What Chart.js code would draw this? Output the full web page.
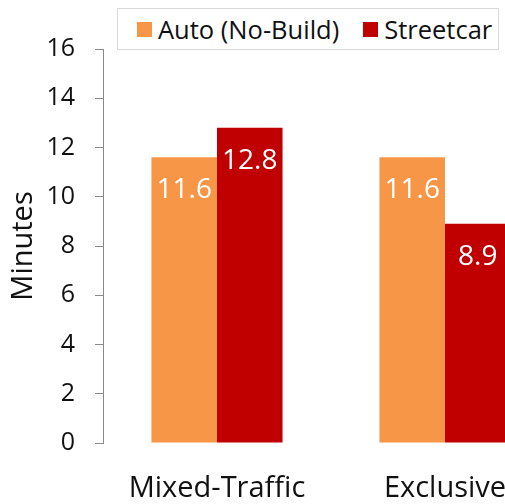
<!DOCTYPE html>
<html>
<head>
<meta charset="utf-8">
<script src="https://cdn.jsdelivr.net/npm/chart.js@4"></script>
<style>
  html, body { margin: 0; padding: 0; background: #fff; overflow: hidden; }
  #wrap { position: relative; width: 580px; height: 504px; }
  #c { display: block; width: 580px; height: 504px; }
  #legend {
    position: absolute; left: 117px; top: 8px; width: 382px; height: 42px;
    border: 1px solid #d9d9d9; box-sizing: border-box; background: #fff;
    display: flex; align-items: center; padding-left: 19px;
    font-family: "Open Sans", sans-serif; font-size: 25.5px; color: #111; white-space: nowrap;
  }
  #legend .item { display: flex; align-items: center; margin-right: 24px; }
  #legend .sw { width: 15px; height: 15px; margin-right: 6px; display: inline-block; }
</style>
</head>
<body>
<div id="wrap">
  <canvas id="c" width="580" height="504"></canvas>
  <div id="legend"></div>
</div>
<script>
const categories = ["Mixed-Traffic", "Exclusive"];
const seriesNames = ["Auto (No-Build)", "Streetcar"];
const autoValues = [11.6, 11.6];
const streetcarValues = [12.8, 8.9];
const seriesColors = ["#F79646", "#C00000"];
const yTicks = [0, 2, 4, 6, 8, 10, 12, 14, 16];

const FONT = "'Open Sans', sans-serif";

const valueLabels = {
  id: "valueLabels",
  afterDatasetsDraw(chart) {
    const ctx = chart.ctx;
    ctx.save();
    ctx.font = "28px " + FONT;
    ctx.fillStyle = "#ffffff";
    ctx.textAlign = "center";
    ctx.textBaseline = "middle";
    chart.data.datasets.forEach((ds, i) => {
      const meta = chart.getDatasetMeta(i);
      meta.data.forEach((bar, j) => {
        ctx.fillText(ds.data[j].toFixed(1), bar.x, bar.y + 33);
      });
    });
    ctx.restore();
  }
};

const htmlLegend = {
  id: "htmlLegend",
  afterUpdate(chart) {
    const box = document.getElementById("legend");
    box.innerHTML = "";
    chart.data.datasets.forEach(ds => {
      const item = document.createElement("span");
      item.className = "item";
      const sw = document.createElement("span");
      sw.className = "sw";
      sw.style.background = ds.backgroundColor;
      const tx = document.createElement("span");
      tx.textContent = ds.label;
      item.appendChild(sw);
      item.appendChild(tx);
      box.appendChild(item);
    });
  }
};

new Chart(document.getElementById("c"), {
  type: "bar",
  data: {
    labels: categories,
    datasets: [
      { label: seriesNames[0], data: autoValues, backgroundColor: seriesColors[0] },
      { label: seriesNames[1], data: streetcarValues, backgroundColor: seriesColors[1] }
    ]
  },
  options: {
    responsive: false,
    animation: false,
    events: [],
    devicePixelRatio: 1,
    layout: { padding: { left: 9, top: 49, right: 21, bottom: 2 } },
    datasets: { bar: { categoryPercentage: 0.575, barPercentage: 1.0, borderWidth: 0 } },
    plugins: { legend: { display: false }, tooltip: { enabled: false } },
    scales: {
      x: {
        afterFit(scale) { scale.height = 59; },
        grid: { display: false, drawTicks: false },
        border: { display: false },
        ticks: { font: { family: FONT, size: 29, lineHeight: 1 }, color: "#111", padding: 31, maxRotation: 0 }
      },
      y: {
        min: 0, max: 16,
        afterFit(scale) { scale.width = 94; },
        afterBuildTicks(scale) { scale.ticks = yTicks.map(v => ({ value: v })); },
        grid: { drawOnChartArea: false, drawTicks: true, tickLength: 8, color: "#8a8a8a", lineWidth: 1 },
        border: { display: true, color: "#8a8a8a", width: 1 },
        ticks: { font: { family: FONT, size: 25 }, color: "#111", padding: 20 },
        title: { display: true, text: "Minutes", font: { family: FONT, size: 29, lineHeight: 1 }, color: "#111", padding: { top: 0, bottom: 0 } }
      }
    }
  },
  plugins: [valueLabels, htmlLegend]
});
</script>
</body>
</html>
